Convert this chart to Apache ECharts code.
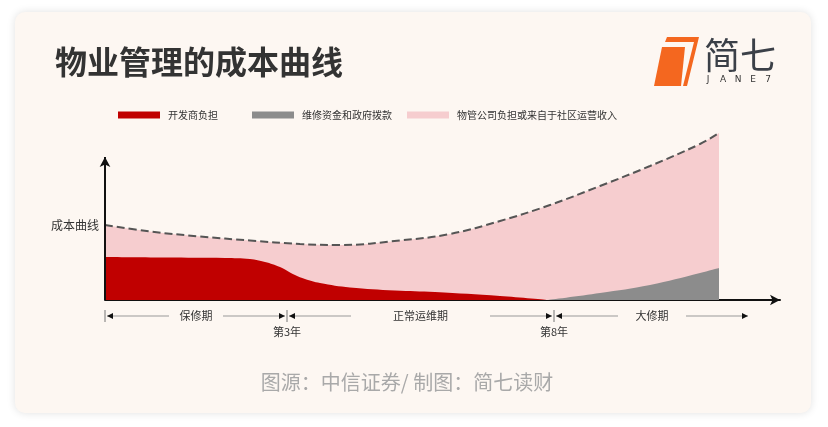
<!DOCTYPE html>
<html><head><meta charset="utf-8">
<script src="https://cdn.jsdelivr.net/npm/echarts@6/dist/echarts.min.js"></script>
<style>html,body{margin:0;padding:0;background:#fff}#c{width:828px;height:427px}</style>
</head><body><div id="c"></div>
<script>
// ---- data (arbitrary cost units, x = time units) ----
const seriesNames = ['开发商负担', '维修资金和政府拨款', '物管公司负担或来自于社区运营收入'];
const totalX    = [0, 45, 95, 145, 195, 235, 295, 345, 395, 445, 495, 545, 595, 614];
const totalCost = [75, 68.5, 63.5, 59.5, 56, 55, 59.5, 66, 79, 95, 114, 134, 156, 167];
const devX      = [0, 60, 120, 145, 160, 175, 190, 200, 215, 245, 290, 330, 395, 443];
const devCost   = [43, 42.5, 42, 41, 38, 33, 25, 21, 17, 12.5, 9.5, 8, 4, 0];
const fundX     = [443, 495, 545, 595, 614];
const fundCost  = [0, 7, 15, 27, 32];
const yLabelValue = 75;
const yLabelText = '成本曲线';
const milestoneX = [0, 182, 449];
const milestoneLabels = ['', '第3年', '第8年'];
const periodFrom = [0, 182, 449];
const periodTo = [182, 449, 645];
const periodLabels = ['保修期', '正常运维期', '大修期'];

const FONT = '"Noto Sans CJK SC", "Noto Sans", sans-serif';
const zip = (xs, ys) => xs.map((x, i) => [x, ys[i]]);
const colors = ['#c00000', '#8c8c8c', '#f6cdcf'];

const chart = echarts.init(document.getElementById('c'));

const legendLefts = [113, 247, 402];
const legends = seriesNames.map((n, i) => ({
  left: legendLefts[i], top: 105, icon: 'rect', itemWidth: 42, itemHeight: 7,
  selectedMode: false,
  data: [{ name: n, itemStyle: { color: colors[i], borderWidth: 0 } }],
  textStyle: { fontSize: 10, color: '#333', fontFamily: FONT, padding: [0, 0, 0, 3] }
}));

const option = {
  animation: false,
  backgroundColor: '#fff',
  title: { text: '物业管理的成本曲线', left: 50, top: 41,
    textStyle: { fontSize: 32, fontWeight: 'bold', color: '#333', fontFamily: FONT } },
  legend: legends,
  grid: { left: 105, top: 130, width: 675, height: 170 },
  xAxis: { type: 'value', min: 0, max: 675,
    axisLine: { show: true, symbol: ['none', 'arrow'], symbolSize: [8, 10], lineStyle: { color: '#111', width: 2 } },
    axisTick: { show: false }, axisLabel: { show: false }, splitLine: { show: false } },
  yAxis: { type: 'value', min: 0, max: 170, interval: 75,
    axisLine: { show: false }, axisTick: { show: false }, splitLine: { show: false },
    axisLabel: { formatter: v => v === yLabelValue ? yLabelText : '', fontSize: 12, color: '#333', fontFamily: FONT, margin: 6 } },
  series: [
    { name: seriesNames[2], type: 'line', data: zip(totalX, totalCost), smooth: 0.4, symbol: 'none', clip: false, z: 1,
      itemStyle: { color: colors[2] },
      lineStyle: { color: '#555', width: 2, type: [8, 4] },
      areaStyle: { color: colors[2], opacity: 1 } },
    { name: seriesNames[0], type: 'line', data: zip(devX, devCost), smooth: 0.4, symbol: 'none', z: 2,
      itemStyle: { color: colors[0] }, lineStyle: { width: 0 },
      areaStyle: { color: colors[0], opacity: 1 },
      markLine: { silent: true, symbol: ['none', 'arrow'], symbolSize: [8, 10], label: { show: false },
        lineStyle: { color: '#111', width: 2, type: 'solid' },
        data: [[{ coord: [0, 0] }, { coord: [0, 143] }]] } },
    { name: seriesNames[1], type: 'line', data: zip(fundX, fundCost), smooth: 0.4, symbol: 'none', z: 2,
      itemStyle: { color: colors[1] }, lineStyle: { width: 0 },
      areaStyle: { color: colors[1], opacity: 1 } }
  ],
  graphic: [
    { type: 'rect', id: 'card', z: -100, shape: { x: 15, y: 12, width: 796, height: 401, r: 10 },
      style: { fill: '#fdf7f2', shadowBlur: 8, shadowColor: 'rgba(0,0,0,0.12)' } },
    { type: 'polygon', id: 'logoA', shape: { points: [[662, 47], [685, 47], [681, 86], [654, 86]] }, style: { fill: '#f4671f' } },
    { type: 'polygon', id: 'logoB', shape: { points: [[667, 37], [699, 37], [687, 86], [683, 86], [694, 42], [665, 42]] }, style: { fill: '#f4671f' } },
    { type: 'text', id: 'logoT', x: 704, y: 55, style: { text: '简七', fontSize: 36, fontFamily: FONT, fill: '#3b4048', verticalAlign: 'middle' } },
    { type: 'text', id: 'src', x: 407, y: 382, style: { text: '图源：中信证券/ 制图：简七读财', fontSize: 20, fontFamily: FONT, fill: '#a9a9a9', align: 'center', verticalAlign: 'middle' } }
  ]
};
['J', 'A', 'N', 'E', '7'].forEach((ch, i) => {
  option.graphic.push({ type: 'text', id: 'jl' + i, x: 708 + i * 15, y: 80,
    style: { text: ch, fontSize: 9, fontFamily: 'DejaVu Sans', fill: '#333', align: 'center', verticalAlign: 'middle' } });
});
chart.setOption(option);

// ---- period annotations below the x axis, positioned through the axis scale ----
const px = x => chart.convertToPixel({ gridIndex: 0 }, [x, 0]);
const axisY = px(0)[1];
const rowY = axisY + 16, labY = axisY + 32;
const g = [];
milestoneX.forEach((mx, i) => {
  const p = px(mx)[0];
  g.push({ type: 'line', id: 'mt' + i, shape: { x1: p, y1: rowY - 6, x2: p, y2: rowY + 6 }, style: { stroke: '#777', lineWidth: 1 } });
  if (milestoneLabels[i]) g.push({ type: 'text', id: 'ml' + i, x: p, y: labY,
    style: { text: milestoneLabels[i], fontSize: 11, fontFamily: FONT, fill: '#333', align: 'center', verticalAlign: 'middle' } });
});
periodLabels.forEach((lab, i) => {
  const a = px(periodFrom[i])[0], b = px(periodTo[i])[0];
  const L = 62, gap = 2, ah = 6;
  g.push({ type: 'line', id: 'pl' + i, shape: { x1: a + gap, y1: rowY, x2: a + gap + L, y2: rowY }, style: { stroke: '#999', lineWidth: 1 } });
  g.push({ type: 'line', id: 'pr' + i, shape: { x1: b - gap - L, y1: rowY, x2: b - gap, y2: rowY }, style: { stroke: '#999', lineWidth: 1 } });
  g.push({ type: 'polygon', id: 'al' + i, shape: { points: [[a + gap, rowY], [a + gap + ah, rowY - 3], [a + gap + ah, rowY + 3]] }, style: { fill: '#111' } });
  g.push({ type: 'polygon', id: 'ar' + i, shape: { points: [[b - gap, rowY], [b - gap - ah, rowY - 3], [b - gap - ah, rowY + 3]] }, style: { fill: '#111' } });
  g.push({ type: 'text', id: 'pt' + i, x: (a + b) / 2, y: rowY,
    style: { text: lab, fontSize: 11, fontFamily: FONT, fill: '#333', align: 'center', verticalAlign: 'middle' } });
});
chart.setOption({ graphic: g });
</script></body></html>
